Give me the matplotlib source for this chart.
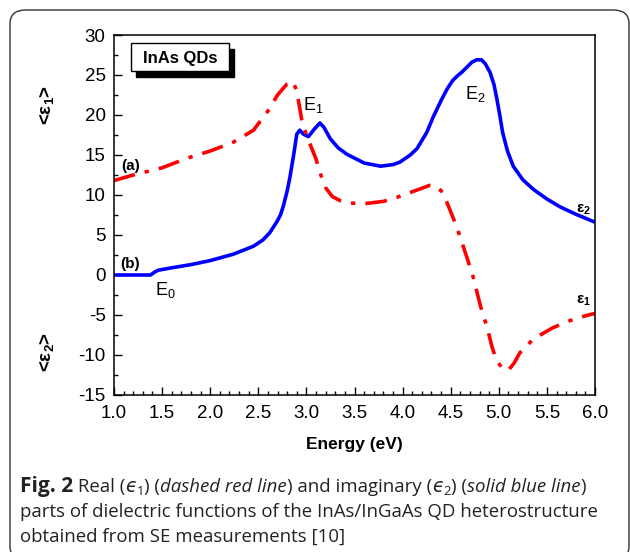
import matplotlib
matplotlib.use("Agg")
import matplotlib.pyplot as plt
from matplotlib.patches import FancyBboxPatch, Rectangle
from matplotlib.ticker import MultipleLocator

# real part <eps1> (dash-dot red)
eps1_energy = [1.0, 1.2, 1.5, 1.76, 2.0, 2.24, 2.45, 2.6, 2.7, 2.8, 2.86, 2.9,
               2.95, 3.0, 3.05, 3.1, 3.15, 3.2, 3.27, 3.35, 3.45, 3.59, 3.8,
               3.94, 4.1, 4.28, 4.35, 4.42, 4.47, 4.56, 4.63, 4.73, 4.81, 4.88,
               4.93, 4.98, 5.05, 5.1, 5.16, 5.22, 5.36, 5.56, 5.74, 5.9, 6.0]
eps1_value = [11.8, 12.5, 13.4, 14.6, 15.5, 16.6, 18.1, 20.5, 22.5, 23.9, 24.2, 23.0,
              19.5, 17.5, 16.0, 14.5, 12.5, 10.9, 9.8, 9.3, 9.0, 8.9, 9.2,
              9.7, 10.4, 11.2, 11.1, 10.3, 8.8, 6.1, 3.6, -0.1, -3.9, -6.6,
              -9.0, -10.8, -11.8, -11.9, -11.0, -9.7, -8.0, -6.6, -5.7, -5.1, -4.8]

# imaginary part <eps2> (solid blue)
eps2_energy = [1.0, 1.38, 1.42, 1.46, 1.6, 1.8, 2.0, 2.24, 2.45, 2.55, 2.62, 2.69,
               2.73, 2.76, 2.8, 2.83, 2.87, 2.9, 2.93, 2.97, 3.02, 3.08, 3.14,
               3.18, 3.25, 3.33, 3.42, 3.6, 3.77, 3.9, 3.97, 4.08, 4.15, 4.25,
               4.32, 4.4, 4.46, 4.52, 4.57, 4.62, 4.67, 4.72, 4.77, 4.82, 4.86,
               4.91, 4.95, 4.98, 5.01, 5.04, 5.09, 5.15, 5.25, 5.36, 5.5, 5.64,
               5.8, 6.0]
eps2_value = [0.0, 0.0, 0.35, 0.6, 0.9, 1.3, 1.8, 2.6, 3.6, 4.4, 5.3, 6.6,
              7.5, 8.6, 10.5, 12.3, 15.2, 17.6, 18.1, 17.6, 17.3, 18.2, 19.0,
              18.5, 17.0, 15.9, 15.1, 14.0, 13.6, 13.8, 14.1, 15.0, 15.8, 17.8,
              19.8, 21.8, 23.2, 24.3, 24.9, 25.4, 26.0, 26.6, 26.9, 26.9, 26.4,
              25.3, 23.8, 22.0, 20.0, 17.8, 15.5, 13.6, 11.9, 10.7, 9.5, 8.5,
              7.6, 6.6]

x_ticks = [1.0, 1.5, 2.0, 2.5, 3.0, 3.5, 4.0, 4.5, 5.0, 5.5, 6.0]
y_ticks = [-15, -10, -5, 0, 5, 10, 15, 20, 25, 30]

W, H = 630, 552
plt.rcParams["font.family"] = ["Liberation Sans", "DejaVu Sans"]
plt.rcParams["axes.unicode_minus"] = False
plt.rcParams["mathtext.fontset"] = "custom"
plt.rcParams["mathtext.rm"] = "Liberation Sans"
plt.rcParams["mathtext.it"] = "Liberation Sans:italic"
plt.rcParams["mathtext.bf"] = "Liberation Sans:bold"

fig = plt.figure(figsize=(W / 100, H / 100), dpi=100)


def px(x, y):
    # pixel position (from top-left) -> figure fraction
    return x / W, 1 - y / H


# rounded frame around figure + caption
frame = FancyBboxPatch(px(10, 560), (629 - 10) / W, (560 - 10) / H,
                       boxstyle="round,pad=0,rounding_size=0.025",
                       transform=fig.transFigure, fill=False,
                       edgecolor="#333333", linewidth=1.0, clip_on=False)
fig.patches.append(frame)

ax = fig.add_axes([114 / W, 1 - 395 / H, (595 - 114) / W, (395 - 35) / H])

ax.plot(eps2_energy, eps2_value, color="#0000ff", lw=2.6, solid_capstyle="butt")
ax.plot(eps1_energy, eps1_value, color="#ff0000", lw=2.6,
        linestyle=(0, (6.0, 2.8, 1.2, 2.8)))

ax.set_xlim(1.0, 6.0)
ax.set_ylim(-15, 30)
ax.set_xticks(x_ticks)
ax.set_yticks(y_ticks)
ax.set_xticklabels([f"{v:.1f}" for v in x_ticks])
ax.xaxis.set_minor_locator(MultipleLocator(0.1))
ax.yaxis.set_minor_locator(MultipleLocator(2.5))
ax.tick_params(which="both", direction="in", top=False, right=False,
               labelsize=13.5, width=1.0)
ax.tick_params(axis="x", pad=7)
ax.tick_params(axis="y", pad=6)
ax.tick_params(which="major", length=6)
ax.tick_params(which="minor", length=3)
for s in ax.spines.values():
    s.set_linewidth(1.1)

ax.set_xlabel("Energy (eV)", fontsize=12.5, fontweight="bold", labelpad=11)

# y labels
fig.text(*px(47, 105), "<ε$_\\mathbf{1}$>", rotation=90, fontsize=13.5,
         fontweight="bold", ha="center", va="center")
fig.text(*px(47, 352), "<ε$_\\mathbf{2}$>", rotation=90, fontsize=13.5,
         fontweight="bold", ha="center", va="center")

# annotations
ax.text(3.07, 21.3, "E$_1$", fontsize=13, ha="center", va="center")
ax.text(4.76, 22.6, "E$_2$", fontsize=13, ha="center", va="center")
ax.text(1.53, -1.9, "E$_0$", fontsize=13, ha="center", va="center")
ax.text(1.17, 13.6, "(a)", fontsize=11, fontweight="bold", ha="center", va="center")
ax.text(1.17, 1.4, "(b)", fontsize=11, fontweight="bold", ha="center", va="center")
ax.text(5.88, 8.1, "ε$_\\mathbf{2}$", fontsize=11, fontweight="bold", ha="center", va="center")
ax.text(5.88, -3.2, "ε$_\\mathbf{1}$", fontsize=11, fontweight="bold", ha="center", va="center")

# "InAs QDs" box with shadow
fig.patches.append(Rectangle(px(136, 77), 98 / W, 28 / H, transform=fig.transFigure,
                             facecolor="black", edgecolor="black", lw=1))
fig.patches.append(Rectangle(px(131, 71), 98 / W, 28 / H, transform=fig.transFigure,
                             facecolor="white", edgecolor="black", lw=1))
fig.text(*px(180, 58), "InAs QDs", fontsize=12, fontweight="bold",
         ha="center", va="center", zorder=5)

# caption, drawn as runs of text
renderer = fig.canvas.get_renderer()
cap_font = ["Open Sans", "DejaVu Sans"]


def draw_runs(x0, y0, runs, size=13.4):
    x = x0
    for txt, style, weight, dy, scale in runs:
        t = fig.text(x / W, 1 - (y0 + dy) / H, txt, fontsize=size * scale,
                     family=cap_font, style=style, fontweight=weight,
                     ha="left", va="baseline", color="#222222")
        x += t.get_window_extent(renderer).width


N, I, B = "normal", "italic", "bold"
draw_runs(20, 492, [
    ("Fig. 2", N, B, 0, 1.12), (" Real (", N, N, 0, 1), ("ϵ", I, N, 0, 1.0),
    ("1", N, N, 3, 0.7), (") (", N, N, 0, 1), ("dashed red line", I, N, 0, 1),
    (") and imaginary (", N, N, 0, 1), ("ϵ", I, N, 0, 1.0), ("2", N, N, 3, 0.7),
    (") (", N, N, 0, 1), ("solid blue line", I, N, 0, 1), (")", N, N, 0, 1),
])
draw_runs(20, 517, [("parts of dielectric functions of the InAs/InGaAs QD heterostructure", N, N, 0, 1)])
draw_runs(20, 542, [("obtained from SE measurements [10]", N, N, 0, 1)])

fig.savefig("out.png", dpi=100)
